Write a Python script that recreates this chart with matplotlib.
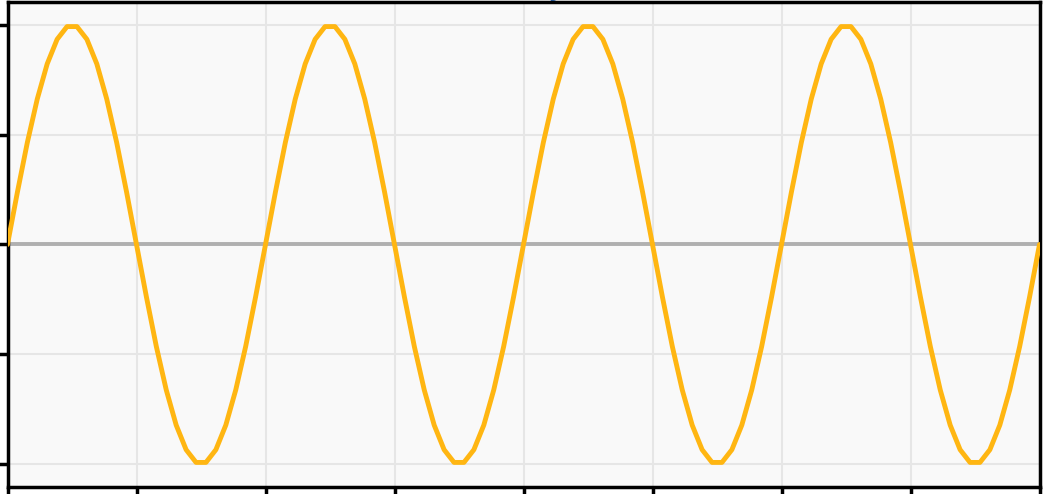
import matplotlib
matplotlib.use("Agg")
import matplotlib.pyplot as plt

# x positions (period = 2 units, 26 samples per period)
x_vals = [i / 13 for i in range(105)]
y_vals = [
    0.000, 0.239, 0.465, 0.663, 0.823, 0.935, 0.993, 0.993, 0.935, 0.823, 0.663, 0.465, 0.239,
    0.000, -0.239, -0.465, -0.663, -0.823, -0.935, -0.993, -0.993, -0.935, -0.823, -0.663, -0.465, -0.239,
    0.000, 0.239, 0.465, 0.663, 0.823, 0.935, 0.993, 0.993, 0.935, 0.823, 0.663, 0.465, 0.239,
    0.000, -0.239, -0.465, -0.663, -0.823, -0.935, -0.993, -0.993, -0.935, -0.823, -0.663, -0.465, -0.239,
    0.000, 0.239, 0.465, 0.663, 0.823, 0.935, 0.993, 0.993, 0.935, 0.823, 0.663, 0.465, 0.239,
    0.000, -0.239, -0.465, -0.663, -0.823, -0.935, -0.993, -0.993, -0.935, -0.823, -0.663, -0.465, -0.239,
    0.000, 0.239, 0.465, 0.663, 0.823, 0.935, 0.993, 0.993, 0.935, 0.823, 0.663, 0.465, 0.239,
    0.000, -0.239, -0.465, -0.663, -0.823, -0.935, -0.993, -0.993, -0.935, -0.823, -0.663, -0.465, -0.239,
    0.000,
]
x_ticks = [0, 1, 2, 3, 4, 5, 6, 7, 8]
y_ticks = [-1.0, -0.5, 0.0, 0.5, 1.0]
title_text = "Sine Wave: y = sin(πx)"

W, H = 1045, 494
fig = plt.figure(figsize=(W / 100, H / 100), dpi=100)
left, right, top, bottom = 7.5, 1039.5, 2.0, 487.0
ax = fig.add_axes([left / W, (H - bottom) / H, (right - left) / W, (bottom - top) / H])
ax.set_facecolor("#f9f9f9")
fig.patch.set_facecolor("white")

ax.grid(True, color="#e6e6e6", linewidth=1.5)
ax.set_axisbelow(True)
ax.axhline(0, color="#b0b0b0", linewidth=2.8, zorder=2)
ax.plot(x_vals, y_vals, color="#ffb612", linewidth=3.5, zorder=3,
        solid_joinstyle="round", solid_capstyle="round")

ax.set_xlim(0, 8)
ax.set_ylim(-1.105, 1.105)
ax.set_xticks(x_ticks)
ax.set_yticks(y_ticks)
ax.tick_params(direction="out", length=8, width=2.5, colors="black",
               labelleft=False, labelbottom=False)
for s in ax.spines.values():
    s.set_linewidth(2.5)
    s.set_color("black")

fig.text(0.52, 1.0 + 4 / H, title_text, ha="center", va="baseline",
         fontsize=17, fontweight="bold", color="#1f4e8c", zorder=10)

fig.savefig("out.png", dpi=100)
